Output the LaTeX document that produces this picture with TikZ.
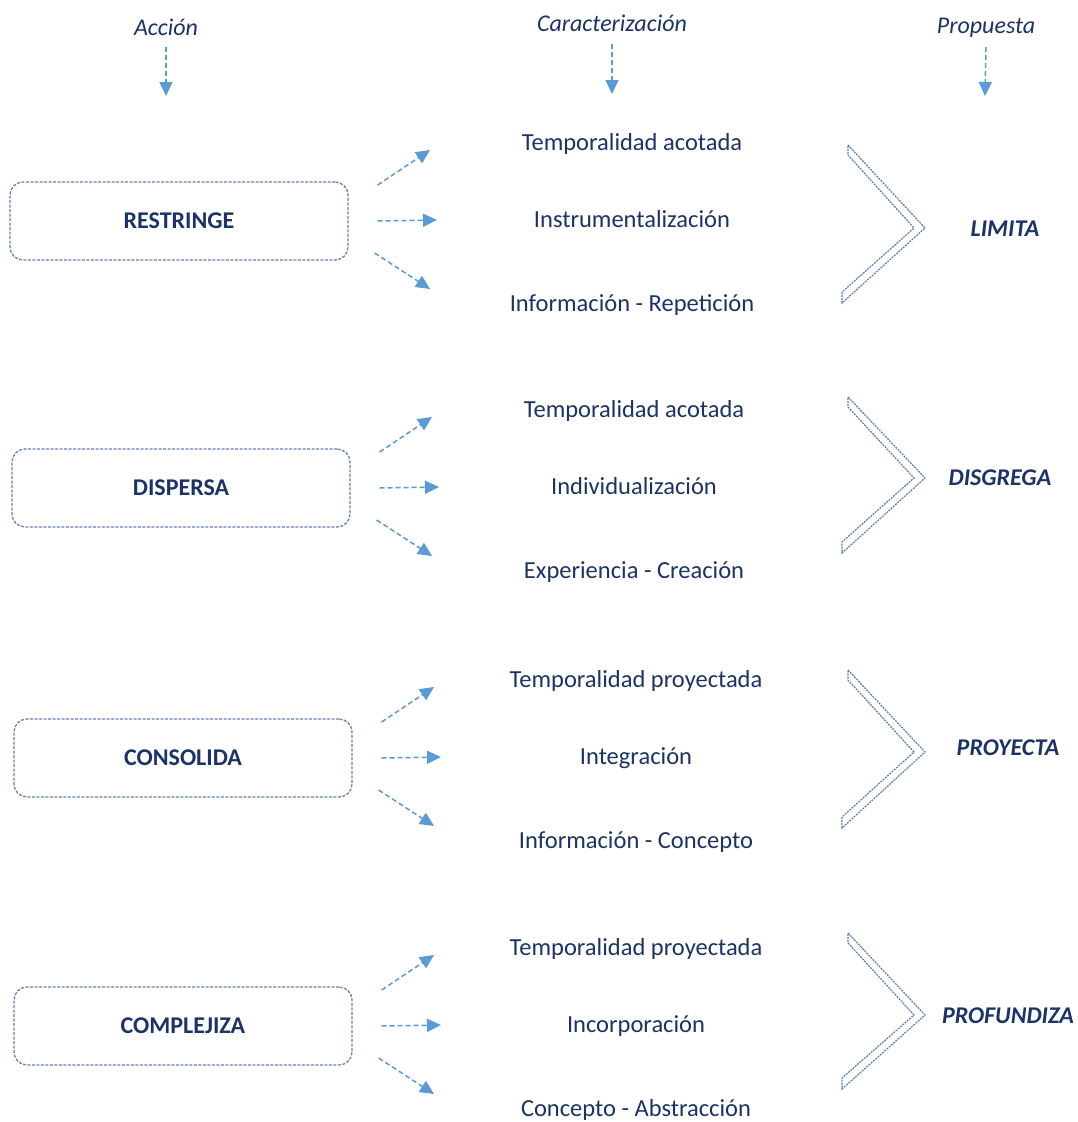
\documentclass[tikz,border=0pt]{standalone}
\usepackage{fontspec}
\setmainfont{Carlito}
\usetikzlibrary{arrows.meta}
\definecolor{navy}{HTML}{1B3366}
\definecolor{arrowblue}{HTML}{5B9BD5}
\definecolor{boxline}{HTML}{6584B0}
\definecolor{chevline}{HTML}{5A80B0}
\begin{document}
\begin{tikzpicture}[x=1pt,y=-1pt,
  txt/.style={text=navy, font=\fontsize{24.5}{27}\selectfont, inner sep=0pt, anchor=base},
  hdr/.style={text=navy, font=\fontsize{24}{27}\selectfont\itshape, inner sep=0pt, anchor=base},
  actbox/.style={draw=boxline, dash pattern=on 3pt off 1.5pt, rounded corners=13pt, line width=1.3pt,
    minimum width=338pt, minimum height=78pt, text=navy, font=\fontsize{24}{27}\selectfont\bfseries},
  res/.style={text=navy, font=\fontsize{24}{27}\selectfont\bfseries\itshape, inner sep=0pt, anchor=base},
  darr/.style={draw=arrowblue, line width=1.5pt, dash pattern=on 5pt off 3pt,
    -{Triangle[length=14pt,width=13pt]}},
  chev/.style={draw=chevline, line width=1.2pt, dash pattern=on 2pt off 1pt},
]
\useasboundingbox[fill=white] (0,0) rectangle (1077,1122);

% headers
\node[hdr] (h1) at (166,35) {Acción};
\node[hdr] (h2) at (612,31) {Caracterización};
\node[hdr] (h3) at (986,33) {Propuesta};
\coordinate (h1e) at (166,96);
\coordinate (h2e) at (612,94);
\coordinate (h3e) at (985,96);
\draw[darr] ([yshift=-12pt]h1.base) -- (h1e);
\draw[darr] ([yshift=-13pt]h2.base) -- (h2e);
\draw[darr] ([yshift=-14pt]h3.base) -- (h3e);

% groups
\foreach \c/\dx/\lab/\ta/\tb/\tc/\i in {
  221/0/RESTRINGE/Temporalidad acotada/Instrumentalización/Información - Repetición/1,
  488/2/DISPERSA/Temporalidad acotada/Individualización/Experiencia - Creación/2,
  758/4/CONSOLIDA/Temporalidad proyectada/Integración/Información - Concepto/3,
  1026/4/COMPLEJIZA/Temporalidad proyectada/Incorporación/Concepto - Abstracción/4}{
  \node[actbox] (b\i) at (179+\dx,\c) {\lab};
  \node[txt] (ta\i) at (632+\dx,\c-71) {\ta};
  \node[txt] (tb\i) at (632+\dx,\c+6) {\tb};
  \node[txt] (tc\i) at (632+\dx,\c+90) {\tc};
  \coordinate (ue\i) at (430+\dx,\c-71);
  \coordinate (me\i) at (437+\dx,\c-1);
  \coordinate (le\i) at (430+\dx,\c+68);
  \draw[darr] ([shift={(29pt,36pt)}]b\i.east) -- (ue\i);
  \draw[darr] ([shift={(29pt,0pt)}]b\i.east) -- (me\i);
  \draw[darr] ([shift={(26pt,-32pt)}]b\i.east) -- (le\i);
}

% chevrons
\foreach \t/\m/\b in {145/228/303, 397/478/553, 670/752/828, 933/1015/1089}{
  \draw[chev] (848,\t) -- (925,\m) -- (842,\b) -- (842,\b-11) -- (914,\m) -- (848,\t+10) -- cycle;
}

% results
\node[res] (r1) at (1005,236) {LIMITA};
\node[res] (r2) at (1000,485) {DISGREGA};
\node[res] (r3) at (1008,755) {PROYECTA};
\node[res] (r4) at (1008,1023) {PROFUNDIZA};
\end{tikzpicture}
\end{document}
